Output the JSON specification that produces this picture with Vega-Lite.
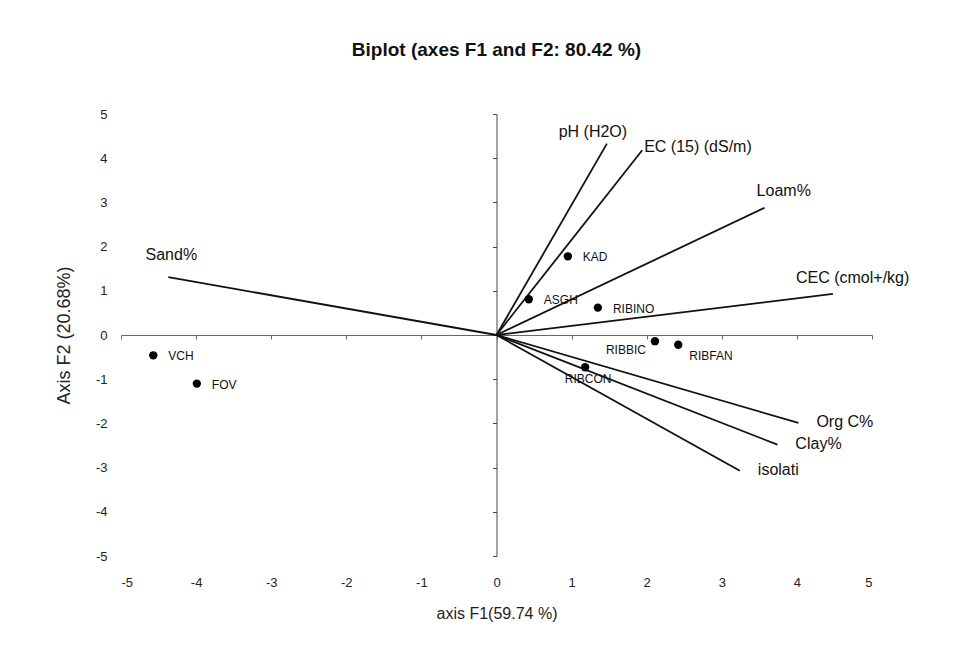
{
  "$schema": "https://vega.github.io/schema/vega-lite/v6.json",
  "width": 751,
  "height": 442,
  "autosize": "none",
  "padding": {"left": 121, "top": 114, "right": 96, "bottom": 92},
  "background": "white",
  "title": {
    "text": "Biplot (axes F1 and F2: 80.42 %)",
    "font": "Liberation Sans",
    "fontSize": 19,
    "fontWeight": "bold",
    "color": "#111",
    "anchor": "middle",
    "offset": 48
  },
  "config": {
    "view": {"stroke": null},
    "axis": {"grid": false, "labelFont": "Liberation Sans", "titleFont": "Liberation Sans", "labelColor": "#222", "titleColor": "#222", "titleFontWeight": "normal"},
    "text": {"font": "Liberation Sans", "color": "#111"}
  },
  "datasets": {
    "points": [
      {"name": "KAD", "F1": 0.95, "F2": 1.78},
      {"name": "ASGH", "F1": 0.43, "F2": 0.81},
      {"name": "RIBINO", "F1": 1.35, "F2": 0.62},
      {"name": "RIBBIC", "F1": 2.11, "F2": -0.14},
      {"name": "RIBFAN", "F1": 2.42, "F2": -0.22},
      {"name": "RIBCON", "F1": 1.18, "F2": -0.73},
      {"name": "VCH", "F1": -4.57, "F2": -0.46},
      {"name": "FOV", "F1": -3.99, "F2": -1.1}
    ],
    "vectors": [
      {"name": "pH (H2O)", "F1": 1.47, "F2": 4.33},
      {"name": "EC (15) (dS/m)", "F1": 1.94, "F2": 4.18},
      {"name": "Loam%", "F1": 3.57, "F2": 2.88},
      {"name": "CEC (cmol+/kg)", "F1": 4.48, "F2": 0.93},
      {"name": "Sand%", "F1": -4.37, "F2": 1.31},
      {"name": "Org C%", "F1": 4.02, "F2": -1.99},
      {"name": "Clay%", "F1": 3.74, "F2": -2.48},
      {"name": "isolati", "F1": 3.24, "F2": -3.07}
    ]
  },
  "resolve": {"axis": {"x": "independent", "y": "independent"}},
  "layer": [
    {
      "data": {"name": "vectors"},
      "mark": {"type": "rule", "color": "#111", "strokeWidth": 1.8},
      "encoding": {
        "x": {"field": "F1", "type": "quantitative",
          "scale": {"domain": [-5, 5], "nice": false, "zero": false},
          "axis": {"orient": "bottom", "offset": -221, "labels": false, "title": null, "values": [-5,-4,-3,-2,-1,0,1,2,3,4,5], "domain": true, "domainColor": "#666", "tickColor": "#666", "tickSize": 4, "ticks": true}},
        "x2": {"datum": 0},
        "y": {"field": "F2", "type": "quantitative",
          "scale": {"domain": [-5, 5], "nice": false, "zero": false},
          "axis": {"orient": "left", "offset": -375.5, "labels": false, "title": null, "values": [-5,-4,-3,-2,-1,0,1,2,3,4,5], "domain": true, "domainColor": "#444", "tickColor": "#444", "tickSize": 4, "ticks": true}},
        "y2": {"datum": 0}
      }
    },
    {
      "data": {"name": "points"},
      "mark": {"type": "circle", "color": "#000", "opacity": 1, "size": 70},
      "encoding": {
        "x": {"field": "F1", "type": "quantitative",
          "axis": {"orient": "bottom", "domain": false, "ticks": false, "labelPadding": 20, "labelFontSize": 13, "values": [-5,-4,-3,-2,-1,0,1,2,3,4,5], "labelExpr": "datum.value < 0 ? '-' + abs(datum.value) : '' + datum.value", "title": "axis F1(59.74 %)", "titleFontSize": 16, "titlePadding": 16}},
        "y": {"field": "F2", "type": "quantitative",
          "axis": {"orient": "left", "domain": false, "ticks": false, "labelPadding": 14, "labelFontSize": 13, "values": [-5,-4,-3,-2,-1,0,1,2,3,4,5], "labelExpr": "datum.value < 0 ? '-' + abs(datum.value) : '' + datum.value", "title": "Axis F2 (20.68%)", "titleFontSize": 18, "titlePadding": 22}}
      }
    },
    {
      "data": {"name": "points"},
      "transform": [{"filter": "indexof(['KAD','ASGH','RIBINO','VCH','FOV'], datum.name) >= 0"}],
      "mark": {"type": "text", "align": "left", "dx": 15, "dy": 1, "fontSize": 12},
      "encoding": {"x": {"field": "F1", "type": "quantitative", "axis": null}, "y": {"field": "F2", "type": "quantitative", "axis": null}, "text": {"field": "name"}}
    },
    {
      "data": {"name": "points"},
      "transform": [{"filter": "datum.name == 'RIBFAN'"}],
      "mark": {"type": "text", "align": "left", "dx": 11, "dy": 11, "fontSize": 12},
      "encoding": {"x": {"field": "F1", "type": "quantitative", "axis": null}, "y": {"field": "F2", "type": "quantitative", "axis": null}, "text": {"field": "name"}}
    },
    {
      "data": {"name": "points"},
      "transform": [{"filter": "datum.name == 'RIBBIC'"}],
      "mark": {"type": "text", "align": "right", "dx": -9, "dy": 9, "fontSize": 12},
      "encoding": {"x": {"field": "F1", "type": "quantitative", "axis": null}, "y": {"field": "F2", "type": "quantitative", "axis": null}, "text": {"field": "name"}}
    },
    {
      "data": {"name": "points"},
      "transform": [{"filter": "datum.name == 'RIBCON'"}],
      "mark": {"type": "text", "align": "center", "dx": 3, "dy": 12, "fontSize": 12},
      "encoding": {"x": {"field": "F1", "type": "quantitative", "axis": null}, "y": {"field": "F2", "type": "quantitative", "axis": null}, "text": {"field": "name"}}
    },
    {
      "data": {"name": "vectors"},
      "transform": [{"filter": "datum.name == 'pH (H2O)'"}],
      "mark": {"type": "text", "align": "center", "dx": -14, "dy": -12, "fontSize": 16},
      "encoding": {"x": {"field": "F1", "type": "quantitative", "axis": null}, "y": {"field": "F2", "type": "quantitative", "axis": null}, "text": {"field": "name"}}
    },
    {
      "data": {"name": "vectors"},
      "transform": [{"filter": "datum.name == 'EC (15) (dS/m)'"}],
      "mark": {"type": "text", "align": "left", "dx": 2, "dy": -3, "fontSize": 16},
      "encoding": {"x": {"field": "F1", "type": "quantitative", "axis": null}, "y": {"field": "F2", "type": "quantitative", "axis": null}, "text": {"field": "name"}}
    },
    {
      "data": {"name": "vectors"},
      "transform": [{"filter": "datum.name == 'Loam%'"}],
      "mark": {"type": "text", "align": "left", "dx": -8, "dy": -17, "fontSize": 16},
      "encoding": {"x": {"field": "F1", "type": "quantitative", "axis": null}, "y": {"field": "F2", "type": "quantitative", "axis": null}, "text": {"field": "name"}}
    },
    {
      "data": {"name": "vectors"},
      "transform": [{"filter": "datum.name == 'CEC (cmol+/kg)'"}],
      "mark": {"type": "text", "align": "left", "dx": -37, "dy": -16, "fontSize": 16},
      "encoding": {"x": {"field": "F1", "type": "quantitative", "axis": null}, "y": {"field": "F2", "type": "quantitative", "axis": null}, "text": {"field": "name"}}
    },
    {
      "data": {"name": "vectors"},
      "transform": [{"filter": "indexof(['Org C%','Clay%','isolati'], datum.name) >= 0"}],
      "mark": {"type": "text", "align": "left", "dx": 18, "dy": -1, "fontSize": 16},
      "encoding": {"x": {"field": "F1", "type": "quantitative", "axis": null}, "y": {"field": "F2", "type": "quantitative", "axis": null}, "text": {"field": "name"}}
    },
    {
      "data": {"name": "vectors"},
      "transform": [{"filter": "datum.name == 'Sand%'"}],
      "mark": {"type": "text", "align": "center", "dx": 3, "dy": -22, "fontSize": 16},
      "encoding": {"x": {"field": "F1", "type": "quantitative", "axis": null}, "y": {"field": "F2", "type": "quantitative", "axis": null}, "text": {"field": "name"}}
    }
  ]
}
